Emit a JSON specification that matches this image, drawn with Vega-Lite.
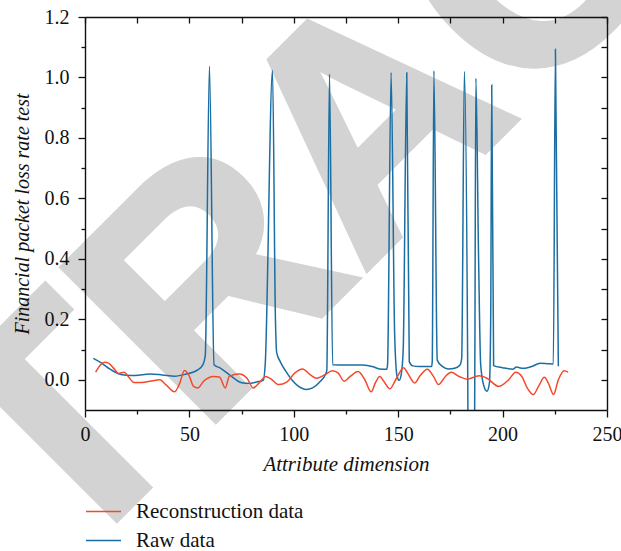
{
  "$schema": "https://vega.github.io/schema/vega-lite/v6.json",
  "width": 522,
  "height": 393,
  "autosize": {"type": "none"},
  "padding": {"left": 85, "top": 17, "right": 14, "bottom": 141},
  "background": "white",
  "config": {
    "view": {"stroke": null},
    "style": {"guide-label": {"font": "Liberation Serif", "fontSize": 20, "fill": "#111"}, "guide-title": {"font": "Liberation Serif", "fontSize": 21, "fontStyle": "italic", "fontWeight": "normal", "fill": "#111"}},
    "axis": {"labelFont": "Liberation Serif", "titleFont": "Liberation Serif", "domainColor": "#111", "tickColor": "#111", "domainWidth": 1.4, "tickWidth": 1.3, "grid": false, "labelFlush": false}
  },
  "datasets": {
    "lines": [
      {"x": 4, "y": 0.071, "series": "Raw data"},
      {"x": 8, "y": 0.055, "series": "Raw data"},
      {"x": 12, "y": 0.035, "series": "Raw data"},
      {"x": 16, "y": 0.02, "series": "Raw data"},
      {"x": 20, "y": 0.015, "series": "Raw data"},
      {"x": 24, "y": 0.014, "series": "Raw data"},
      {"x": 31, "y": 0.019, "series": "Raw data"},
      {"x": 37, "y": 0.016, "series": "Raw data"},
      {"x": 43, "y": 0.012, "series": "Raw data"},
      {"x": 48, "y": 0.018, "series": "Raw data"},
      {"x": 54, "y": 0.033, "series": "Raw data"},
      {"x": 56.5, "y": 0.05, "series": "Raw data"},
      {"x": 57.6, "y": 0.08, "series": "Raw data"},
      {"x": 59.6, "y": 1.037, "series": "Raw data"},
      {"x": 61.8, "y": 0.05, "series": "Raw data"},
      {"x": 65, "y": 0.038, "series": "Raw data"},
      {"x": 70, "y": 0.012, "series": "Raw data"},
      {"x": 75, "y": -0.01, "series": "Raw data"},
      {"x": 79, "y": -0.012, "series": "Raw data"},
      {"x": 83, "y": -0.006, "series": "Raw data"},
      {"x": 85.4, "y": -0.002, "series": "Raw data"},
      {"x": 86.3, "y": 0.05, "series": "Raw data"},
      {"x": 89.8, "y": 1.024, "series": "Raw data"},
      {"x": 91.2, "y": 0.2, "series": "Raw data"},
      {"x": 91.8, "y": 0.09, "series": "Raw data"},
      {"x": 93.5, "y": 0.06, "series": "Raw data"},
      {"x": 96, "y": 0.03, "series": "Raw data"},
      {"x": 99, "y": 0.0, "series": "Raw data"},
      {"x": 102, "y": -0.02, "series": "Raw data"},
      {"x": 106, "y": -0.032, "series": "Raw data"},
      {"x": 109, "y": -0.027, "series": "Raw data"},
      {"x": 112.3, "y": -0.008, "series": "Raw data"},
      {"x": 115.3, "y": 0.02, "series": "Raw data"},
      {"x": 115.8, "y": 0.03, "series": "Raw data"},
      {"x": 117.1, "y": 1.011, "series": "Raw data"},
      {"x": 118.6, "y": 0.05, "series": "Raw data"},
      {"x": 125, "y": 0.049, "series": "Raw data"},
      {"x": 133, "y": 0.049, "series": "Raw data"},
      {"x": 138, "y": 0.043, "series": "Raw data"},
      {"x": 141, "y": 0.036, "series": "Raw data"},
      {"x": 144.5, "y": 0.035, "series": "Raw data"},
      {"x": 144.9, "y": 0.05, "series": "Raw data"},
      {"x": 146.6, "y": 1.016, "series": "Raw data"},
      {"x": 148.3, "y": 0.15, "series": "Raw data"},
      {"x": 149.5, "y": 0.01, "series": "Raw data"},
      {"x": 150.5, "y": -0.002, "series": "Raw data"},
      {"x": 151.5, "y": 0.02, "series": "Raw data"},
      {"x": 152.4, "y": 0.1, "series": "Raw data"},
      {"x": 154.1, "y": 1.016, "series": "Raw data"},
      {"x": 155.3, "y": 0.06, "series": "Raw data"},
      {"x": 157, "y": 0.046, "series": "Raw data"},
      {"x": 160, "y": 0.044, "series": "Raw data"},
      {"x": 166, "y": 0.044, "series": "Raw data"},
      {"x": 166.3, "y": 0.06, "series": "Raw data"},
      {"x": 167.1, "y": 1.022, "series": "Raw data"},
      {"x": 168.7, "y": 0.065, "series": "Raw data"},
      {"x": 171, "y": 0.045, "series": "Raw data"},
      {"x": 174, "y": 0.036, "series": "Raw data"},
      {"x": 177, "y": 0.038, "series": "Raw data"},
      {"x": 179.5, "y": 0.048, "series": "Raw data"},
      {"x": 180.4, "y": 0.07, "series": "Raw data"},
      {"x": 181.7, "y": 1.02, "series": "Raw data"},
      {"x": 183.3, "y": 0.02, "series": "Raw data"},
      {"x": 183.6, "y": -0.35, "series": "Raw data"},
      {"x": 186.4, "y": -0.35, "series": "Raw data"},
      {"x": 186.7, "y": 0.05, "series": "Raw data"},
      {"x": 187.2, "y": 0.997, "series": "Raw data"},
      {"x": 188.5, "y": 0.4, "series": "Raw data"},
      {"x": 189.5, "y": 0.05, "series": "Raw data"},
      {"x": 191, "y": -0.02, "series": "Raw data"},
      {"x": 192.5, "y": -0.038, "series": "Raw data"},
      {"x": 193.7, "y": -0.01, "series": "Raw data"},
      {"x": 194.3, "y": 0.2, "series": "Raw data"},
      {"x": 194.8, "y": 0.975, "series": "Raw data"},
      {"x": 195.7, "y": 0.047, "series": "Raw data"},
      {"x": 200, "y": 0.04, "series": "Raw data"},
      {"x": 204.8, "y": 0.035, "series": "Raw data"},
      {"x": 206.7, "y": 0.042, "series": "Raw data"},
      {"x": 209.6, "y": 0.038, "series": "Raw data"},
      {"x": 212, "y": 0.04, "series": "Raw data"},
      {"x": 214, "y": 0.044, "series": "Raw data"},
      {"x": 218, "y": 0.055, "series": "Raw data"},
      {"x": 222, "y": 0.053, "series": "Raw data"},
      {"x": 224.3, "y": 0.052, "series": "Raw data"},
      {"x": 225.3, "y": 1.093, "series": "Raw data"},
      {"x": 226.7, "y": 0.045, "series": "Raw data"},
      {"x": 5.1, "y": 0.025, "series": "Reconstruction data"},
      {"x": 7.4, "y": 0.049, "series": "Reconstruction data"},
      {"x": 9.3, "y": 0.058, "series": "Reconstruction data"},
      {"x": 11.2, "y": 0.055, "series": "Reconstruction data"},
      {"x": 14, "y": 0.036, "series": "Reconstruction data"},
      {"x": 16, "y": 0.021, "series": "Reconstruction data"},
      {"x": 18.8, "y": 0.025, "series": "Reconstruction data"},
      {"x": 20.7, "y": 0.011, "series": "Reconstruction data"},
      {"x": 23.5, "y": -0.009, "series": "Reconstruction data"},
      {"x": 27.3, "y": -0.009, "series": "Reconstruction data"},
      {"x": 31, "y": -0.005, "series": "Reconstruction data"},
      {"x": 35.9, "y": 0.0, "series": "Reconstruction data"},
      {"x": 38.7, "y": -0.016, "series": "Reconstruction data"},
      {"x": 42.9, "y": -0.04, "series": "Reconstruction data"},
      {"x": 45.4, "y": -0.011, "series": "Reconstruction data"},
      {"x": 47.6, "y": 0.031, "series": "Reconstruction data"},
      {"x": 49.7, "y": 0.016, "series": "Reconstruction data"},
      {"x": 52, "y": -0.022, "series": "Reconstruction data"},
      {"x": 54, "y": -0.027, "series": "Reconstruction data"},
      {"x": 56.8, "y": -0.005, "series": "Reconstruction data"},
      {"x": 61.5, "y": 0.011, "series": "Reconstruction data"},
      {"x": 64.4, "y": 0.009, "series": "Reconstruction data"},
      {"x": 67.2, "y": -0.027, "series": "Reconstruction data"},
      {"x": 69.1, "y": 0.011, "series": "Reconstruction data"},
      {"x": 73.8, "y": 0.019, "series": "Reconstruction data"},
      {"x": 77.6, "y": 0.005, "series": "Reconstruction data"},
      {"x": 80.5, "y": -0.027, "series": "Reconstruction data"},
      {"x": 83.3, "y": -0.011, "series": "Reconstruction data"},
      {"x": 86.6, "y": 0.011, "series": "Reconstruction data"},
      {"x": 89, "y": 0.003, "series": "Reconstruction data"},
      {"x": 92.8, "y": -0.016, "series": "Reconstruction data"},
      {"x": 96.6, "y": -0.008, "series": "Reconstruction data"},
      {"x": 100.4, "y": 0.022, "series": "Reconstruction data"},
      {"x": 104.2, "y": 0.036, "series": "Reconstruction data"},
      {"x": 108, "y": 0.016, "series": "Reconstruction data"},
      {"x": 110.9, "y": 0.005, "series": "Reconstruction data"},
      {"x": 114.7, "y": 0.016, "series": "Reconstruction data"},
      {"x": 118.5, "y": 0.03, "series": "Reconstruction data"},
      {"x": 121.3, "y": 0.022, "series": "Reconstruction data"},
      {"x": 124.1, "y": -0.005, "series": "Reconstruction data"},
      {"x": 127, "y": 0.011, "series": "Reconstruction data"},
      {"x": 130.8, "y": 0.027, "series": "Reconstruction data"},
      {"x": 134, "y": 0.0, "series": "Reconstruction data"},
      {"x": 137.1, "y": -0.04, "series": "Reconstruction data"},
      {"x": 139, "y": -0.011, "series": "Reconstruction data"},
      {"x": 141.2, "y": 0.011, "series": "Reconstruction data"},
      {"x": 143.1, "y": -0.005, "series": "Reconstruction data"},
      {"x": 146, "y": -0.03, "series": "Reconstruction data"},
      {"x": 148.8, "y": 0.0, "series": "Reconstruction data"},
      {"x": 152.6, "y": 0.04, "series": "Reconstruction data"},
      {"x": 154.5, "y": 0.022, "series": "Reconstruction data"},
      {"x": 157.9, "y": -0.011, "series": "Reconstruction data"},
      {"x": 160.2, "y": 0.011, "series": "Reconstruction data"},
      {"x": 164, "y": 0.035, "series": "Reconstruction data"},
      {"x": 166.9, "y": 0.011, "series": "Reconstruction data"},
      {"x": 169.3, "y": -0.016, "series": "Reconstruction data"},
      {"x": 172.6, "y": 0.011, "series": "Reconstruction data"},
      {"x": 175.4, "y": 0.025, "series": "Reconstruction data"},
      {"x": 179.2, "y": 0.011, "series": "Reconstruction data"},
      {"x": 183, "y": 0.002, "series": "Reconstruction data"},
      {"x": 188.7, "y": 0.013, "series": "Reconstruction data"},
      {"x": 192.5, "y": 0.005, "series": "Reconstruction data"},
      {"x": 198.2, "y": -0.022, "series": "Reconstruction data"},
      {"x": 202.9, "y": 0.0, "series": "Reconstruction data"},
      {"x": 206.3, "y": 0.025, "series": "Reconstruction data"},
      {"x": 209.2, "y": 0.011, "series": "Reconstruction data"},
      {"x": 211.8, "y": -0.027, "series": "Reconstruction data"},
      {"x": 214.7, "y": -0.049, "series": "Reconstruction data"},
      {"x": 217.2, "y": -0.022, "series": "Reconstruction data"},
      {"x": 220, "y": 0.008, "series": "Reconstruction data"},
      {"x": 221.9, "y": -0.011, "series": "Reconstruction data"},
      {"x": 224.4, "y": -0.049, "series": "Reconstruction data"},
      {"x": 226.7, "y": 0.0, "series": "Reconstruction data"},
      {"x": 229.5, "y": 0.03, "series": "Reconstruction data"},
      {"x": 231.4, "y": 0.025, "series": "Reconstruction data"}
    ],
    "mark": [{"label": "RETRACTED", "x": 138.9, "y": 0.836}]
  },
  "resolve": {"axis": {"x": "independent", "y": "independent"}},
  "layer": [
    {
      "data": {"name": "mark"},
      "mark": {"type": "text", "font": "Liberation Sans", "fontWeight": "bold", "fontSize": 315, "color": "#d3d3d3", "stroke": "#d3d3d3", "strokeWidth": 6, "angle": -45, "align": "center", "baseline": "middle"},
      "encoding": {
        "x": {"field": "x", "type": "quantitative", "scale": {"domain": [0, 250], "nice": false}, "axis": {"orient": "top", "zindex": 1, "values": [0, 25, 50, 75, 100, 125, 150, 175, 200, 225, 250], "labels": false, "tickSize": -6, "title": null}},
        "y": {"field": "y", "type": "quantitative", "scale": {"domain": [-0.1, 1.2], "nice": false, "zero": false}, "axis": {"orient": "right", "zindex": 1, "values": [0, 0.1, 0.2, 0.3, 0.4, 0.5, 0.6, 0.7, 0.8, 0.9, 1.0, 1.1, 1.2], "labels": false, "tickSize": -6, "title": null}},
        "text": {"field": "label"}
      }
    },
    {
      "data": {"name": "lines"},
      "mark": {"type": "line", "strokeWidth": 1.5, "interpolate": "monotone", "clip": true},
      "encoding": {
        "x": {"field": "x", "type": "quantitative", "scale": {"domain": [0, 250], "nice": false}, "axis": {"orient": "bottom", "zindex": 1, "values": [0, 25, 50, 75, 100, 125, 150, 175, 200, 225, 250], "labelExpr": "datum.value % 50 === 0 ? datum.label : ''", "tickSize": {"condition": {"test": "datum.value % 50 === 0", "value": 7}, "value": 4}, "labelFont": "Liberation Serif", "labelFontSize": 20, "labelColor": "#111", "labelPadding": 7, "title": "Attribute dimension", "titleFont": "Liberation Serif", "titleFontSize": 21, "titleFontStyle": "italic", "titleFontWeight": "normal", "titleColor": "#111", "titlePadding": 9}},
        "y": {"field": "y", "type": "quantitative", "scale": {"domain": [-0.1, 1.2], "nice": false, "zero": false}, "axis": {"orient": "left", "zindex": 1, "values": [0, 0.1, 0.2, 0.3, 0.4, 0.5, 0.6, 0.7, 0.8, 0.9, 1.0, 1.1, 1.2], "labelExpr": "abs(round(datum.value*10)) % 2 === 0 ? format(datum.value, '.1f') : ''", "tickSize": {"condition": {"test": "abs(round(datum.value*10)) % 2 === 0", "value": 7}, "value": 4}, "labelFont": "Liberation Serif", "labelFontSize": 20, "labelColor": "#111", "labelPadding": 9, "title": "Financial packet loss rate test", "titleFont": "Liberation Serif", "titleFontSize": 20, "titleFontStyle": "italic", "titleFontWeight": "normal", "titleColor": "#111", "titlePadding": 12}},
        "color": {"field": "series", "type": "nominal", "scale": {"domain": ["Reconstruction data", "Raw data"], "range": ["#f2492c", "#1b6ea3"]}, "legend": {"title": null, "orient": "none", "legendX": 0, "legendY": 476, "direction": "vertical", "symbolType": "stroke", "symbolSize": 1225, "symbolStrokeWidth": 1.5, "labelFont": "Liberation Serif", "labelFontSize": 21, "labelColor": "#111", "labelOffset": 14, "rowPadding": -4, "labelLimit": 400}},
        "order": {"field": "x", "type": "quantitative"}
      }
    }
  ]
}
